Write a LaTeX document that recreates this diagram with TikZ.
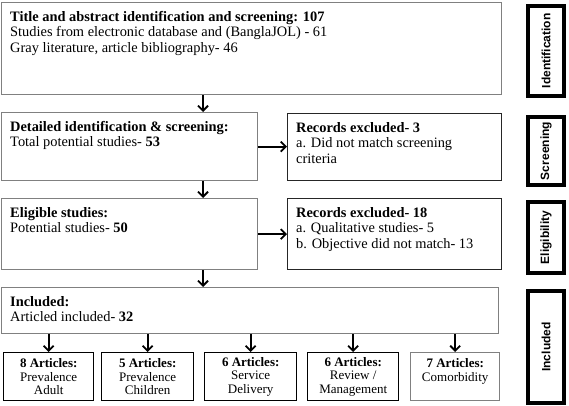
\documentclass[tikz,border=0pt]{standalone}
\usepackage{fontspec}
\setmainfont{Liberation Serif}
\setsansfont{Liberation Sans}
\usetikzlibrary{arrows.meta}

\tikzset{
  box/.style={draw=black!50, line width=1.4pt, anchor=north west, inner sep=0pt},
  exclbox/.style={box, draw=black!85},
  txt/.style={anchor=north west, align=left, inner sep=0pt, font=\fontsize{14.4}{15.5}\selectfont},
  artbox/.style={draw=black, line width=1.4pt, anchor=north west, inner sep=0pt,
    minimum height=48pt, align=center, font=\fontsize{13}{13.5}\selectfont},
  stagebox/.style={draw=black, line width=4pt, anchor=north west, inner sep=0pt, minimum width=36pt},
  stagetxt/.style={rotate=90, inner sep=0pt, font=\sffamily\bfseries\fontsize{12}{12}\selectfont},
  arr/.style={-{Straight Barb[length=5pt,width=10pt,line width=1.8pt]}, line width=1.8pt}
}

\begin{document}
\begin{tikzpicture}[x=1pt, y=-1pt]
		%%%%% FRAME %%%%%
		\useasboundingbox (0,0) rectangle (569,406);
		\coordinate (spine) at (203,0);
		
		%%%%% MAIN BOXES %%%%%
		\node[box, minimum width=500pt, minimum height=92pt] (title) at (1,2) {};
		\node[txt] (titletxt) at ([shift={(9,9)}]title.north west) {\textbf{Title and abstract identification and screening: 107}\\Studies from electronic database and (BanglaJOL) - 61\\Gray literature, article bibliography- 46};
		
		\node[box, minimum width=256pt, minimum height=68pt] (detail) at (1,112) {};
		\node[txt] (detailtxt) at ([shift={(9,9)}]detail.north west) {\textbf{Detailed identification \& screening:}\\Total potential studies- \textbf{53}};
		
		\node[exclbox, minimum width=214pt, minimum height=67pt] (exclA) at (287,113) {};
		\node[txt] (exclAtxt) at ([shift={(9,9)}]exclA.north west) {\textbf{Records excluded- 3}\\a. Did not match screening\\criteria};
		
		\node[box, minimum width=256pt, minimum height=71pt] (elig) at (1,198) {};
		\node[txt] (eligtxt) at ([shift={(9,9)}]elig.north west) {\textbf{Eligible studies:}\\Potential studies- \textbf{50}};
		
		\node[exclbox, minimum width=214pt, minimum height=71pt] (exclB) at (287,198) {};
		\node[txt] (exclBtxt) at ([shift={(9,9)}]exclB.north west) {\textbf{Records excluded- 18}\\a. Qualitative studies- 5\\b. Objective did not match- 13};
		
		\node[box, minimum width=497pt, minimum height=46pt] (incl) at (1,287) {};
		\node[txt] (incltxt) at ([shift={(9,9)}]incl.north west) {\textbf{Included:}\\Articled included- \textbf{32}};
		
		%%%%% ARTICLE BOXES %%%%%
		\node[artbox, minimum width=90pt] (artA) at (3,352) {\textbf{8 Articles:}\\Prevalence\\Adult};
		\node[artbox, minimum width=92pt] (artB) at (101,352) {\textbf{5 Articles:}\\Prevalence\\Children};
		\node[artbox, minimum width=92pt] (artC) at (204,352) {\textbf{6 Articles:}\\Service\\Delivery};
		\node[artbox, minimum width=91pt] (artD) at (307,352) {\textbf{6 Articles:}\\Review /\\Management};
		\node[artbox, draw=black!50, minimum width=89pt] (artE) at (410,352) {\textbf{7 Articles:}\\Comorbidity\\\mbox{}};
		
		%%%%% STAGES %%%%%
		\node[stagebox, minimum height=90pt] (stIdent) at (526,4) {};
		\node[stagetxt] (stIdenttxt) at (stIdent) {Identification};
		\node[stagebox, minimum height=68pt] (stScreen) at (526,115) {};
		\node[stagetxt] (stScreentxt) at (stScreen) {Screening};
		\node[stagebox, minimum height=71pt] (stElig) at (526,200) {};
		\node[stagetxt] (stEligtxt) at (stElig) {Eligibility};
		\node[stagebox, minimum height=112pt] (stIncl) at (526,289) {};
		\node[stagetxt] (stIncltxt) at (stIncl) {Included};
		
		%%%%% ARROWS %%%%%
		\draw[arr] (title.south -| spine) -- (detail.north -| spine);
		\draw[arr] (detail.south -| spine) -- (elig.north -| spine);
		\draw[arr] (elig.south -| spine) -- (incl.north -| spine);
		\draw[arr] (detail.east) -- (detail.east -| exclA.west);
		\draw[arr] (elig.east) -- (elig.east -| exclB.west);
		\foreach \a in {artA,artB,artC,artD,artE}
			\draw[arr] (incl.south -| \a.north) -- (\a.north);
		
\end{tikzpicture}
\end{document}
